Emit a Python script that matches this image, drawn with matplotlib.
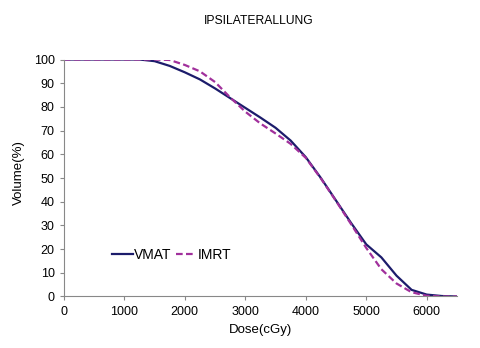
import matplotlib.pyplot as plt

dose = [0, 500, 1000, 1250, 1500, 1750, 2000, 2250, 2500, 2750, 3000, 3250,
        3500, 3750, 4000, 4250, 4500, 4750, 5000, 5250, 5500, 5750, 6000, 6250, 6500]
vmat = [100, 100, 100, 100, 99.3, 97.3, 94.6, 91.6, 87.8, 83.7, 79.6, 75.5,
        71.2, 65.8, 58.8, 50.0, 40.5, 31.0, 22.0, 16.5, 8.8, 2.8, 0.8, 0.2, 0]
imrt = [100, 100, 100, 100, 100, 99.8, 97.7, 95.0, 90.5, 84.0, 78.0, 73.0,
        68.8, 64.4, 58.5, 49.8, 40.3, 30.5, 20.5, 11.5, 5.5, 1.8, 0.3, 0, 0]

plt.rcParams['font.family'] = ['Liberation Sans', 'DejaVu Sans']

fig = plt.figure(figsize=(4.8, 3.48), dpi=100)
ax = fig.add_axes([0.133, 0.148, 0.819, 0.681])

ax.plot(dose, vmat, color="#1c1c6b", lw=1.6, label="VMAT")
ax.plot(dose, imrt, color="#a1309c", lw=1.6, ls=(0, (3, 1.5)), label="IMRT")

ax.set_xlim(0, 6500)
ax.set_ylim(0, 100)
ax.set_xticks(range(0, 6001, 1000))
ax.set_yticks(range(0, 101, 10))
ax.tick_params(labelsize=9, length=3, color="#888888", pad=3.5)
for s in ["top", "right"]:
    ax.spines[s].set_visible(False)
for s in ["left", "bottom"]:
    ax.spines[s].set_color("#888888")
ax.set_xlabel("Dose(cGy)", fontsize=9.5, labelpad=5)
ax.set_ylabel("Volume(%)", fontsize=9.5)
ax.yaxis.set_label_coords(-0.1, 0.525)

fig.text(0.538, 0.94, "IPSILATERALLUNG", ha="center", va="center", fontsize=8.7)

ax.legend(loc="center left", bbox_to_anchor=(0.09, 0.175), ncol=2, frameon=False,
          fontsize=10, handlelength=1.5, handletextpad=0.1, columnspacing=0.3)

fig.savefig("out.png", dpi=100)
